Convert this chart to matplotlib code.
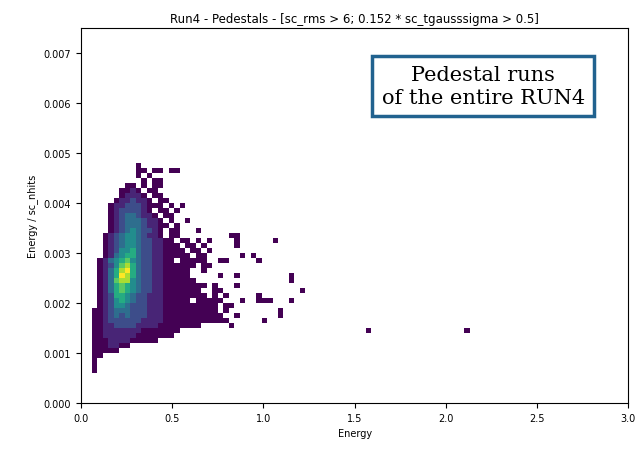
import numpy as np
import matplotlib
matplotlib.use("Agg")
import matplotlib.pyplot as plt

# y-bin lower edges (top row first) and per-row density levels for x bins of 0.03 starting at 0.06
y_rows = [0.0047, 0.0046, 0.0045, 0.0044, 0.0043, 0.0042, 0.0041, 0.0040, 0.0039, 0.0038,
          0.0037, 0.0036, 0.0035, 0.0034, 0.0033, 0.0032, 0.0031, 0.0030, 0.0029, 0.0028,
          0.0027, 0.0026, 0.0025, 0.0024, 0.0023, 0.0022, 0.0021, 0.0020, 0.0019, 0.0018,
          0.0017, 0.0016, 0.0015, 0.0014, 0.0013, 0.0012, 0.0011, 0.0010, 0.0009, 0.0008,
          0.0007, 0.0006]
rows = [
    "........1",
    "........11.11.11",
    "........1.1",
    ".........1.11",
    "......11.1.11",
    ".....1121.11",
    ".....12221.11",
    "....1223221.11",
    "...1223332111.1.1",
    "...12333321.11.1",
    "...123443221.11",
    "...1234443221.1..1",
    "...12344432211.1",
    "...1234543321.11...1",
    "..12345543221.11.........11",
    "..1234554332211.11.1.1....1......1",
    "..12345543322111.11.1.....1",
    "..123556433221111.11.1",
    "..1245664332211111.11......1.1",
    ".12456754332211.11111..11.....1",
    ".123578643322111111.11",
    ".12468964332211111..1",
    ".12469864332211111.....1..1.........1",
    ".124788543322111111.................1",
    ".12467654332211111111.1...1",
    ".1246765433221111111..11..............1",
    ".12366543322211111111.1.1.....1",
    ".12356543322211111.11111...1..111...1",
    ".1235543332221111111111.11",
    "11234443332221111111111.1.........1",
    "112343433322211111111111..1.......1",
    "1123333332222111111111111......1",
    "11223333222211111111.....1",
    "1122222221111111",
    "112222221111111",
    "111222211111",
    "1112211",
    "11111",
    "11",
    "1",
    "1",
    "1",
]
level_counts = [0, 1, 5, 10, 15, 20, 25, 30, 35, 40]
x_start = 0.06
x_step = 0.03
y_step = 0.0001
# isolated outliers
out_x = [1.56, 2.10]
out_y = [0.00148, 0.00142]

xs, ys, ws = [], [], []
for yl, r in zip(y_rows, rows):
    for i, ch in enumerate(r):
        if ch != '.':
            xs.append(x_start + x_step * (i + 0.5))
            ys.append(yl + y_step / 2)
            ws.append(level_counts[int(ch)])
xs += out_x; ys += out_y; ws += [1] * len(out_x)

fig = plt.figure(figsize=(6.43, 4.52), dpi=100)
ax = fig.add_axes([0.126, 0.106, 0.851, 0.83])
xb = np.arange(0, 3.0 + 1e-9, 0.03)
yb = np.arange(0, 0.0076, 0.0001)
ax.hist2d(xs, ys, bins=[xb, yb], weights=ws, cmap='viridis', cmin=0.5)
ax.set_xlim(0, 3)
ax.set_ylim(0, 0.0075)
ax.set_xticks([0, 0.5, 1.0, 1.5, 2.0, 2.5, 3.0])
ax.set_yticks(np.arange(0, 0.0071, 0.001))
ax.yaxis.set_major_formatter(matplotlib.ticker.FormatStrFormatter('%.3f'))
ax.tick_params(labelsize=7)
ax.set_xlabel('Energy', fontsize=7)
ax.set_ylabel('Energy / sc_nhits', fontsize=7)
ax.set_title('Run4 - Pedestals - [sc_rms > 6; 0.152 * sc_tgausssigma > 0.5]', fontsize=8.5, pad=4)

ax.text(0.735, 0.845, 'Pedestal runs\nof the entire RUN4', transform=ax.transAxes,
        ha='center', va='center', fontsize=15, family='DejaVu Serif', linespacing=1.25,
        bbox=dict(boxstyle='square,pad=0.45', fc='white', ec='#21628f', lw=2.5))
fig.savefig('out.png', dpi=100)
